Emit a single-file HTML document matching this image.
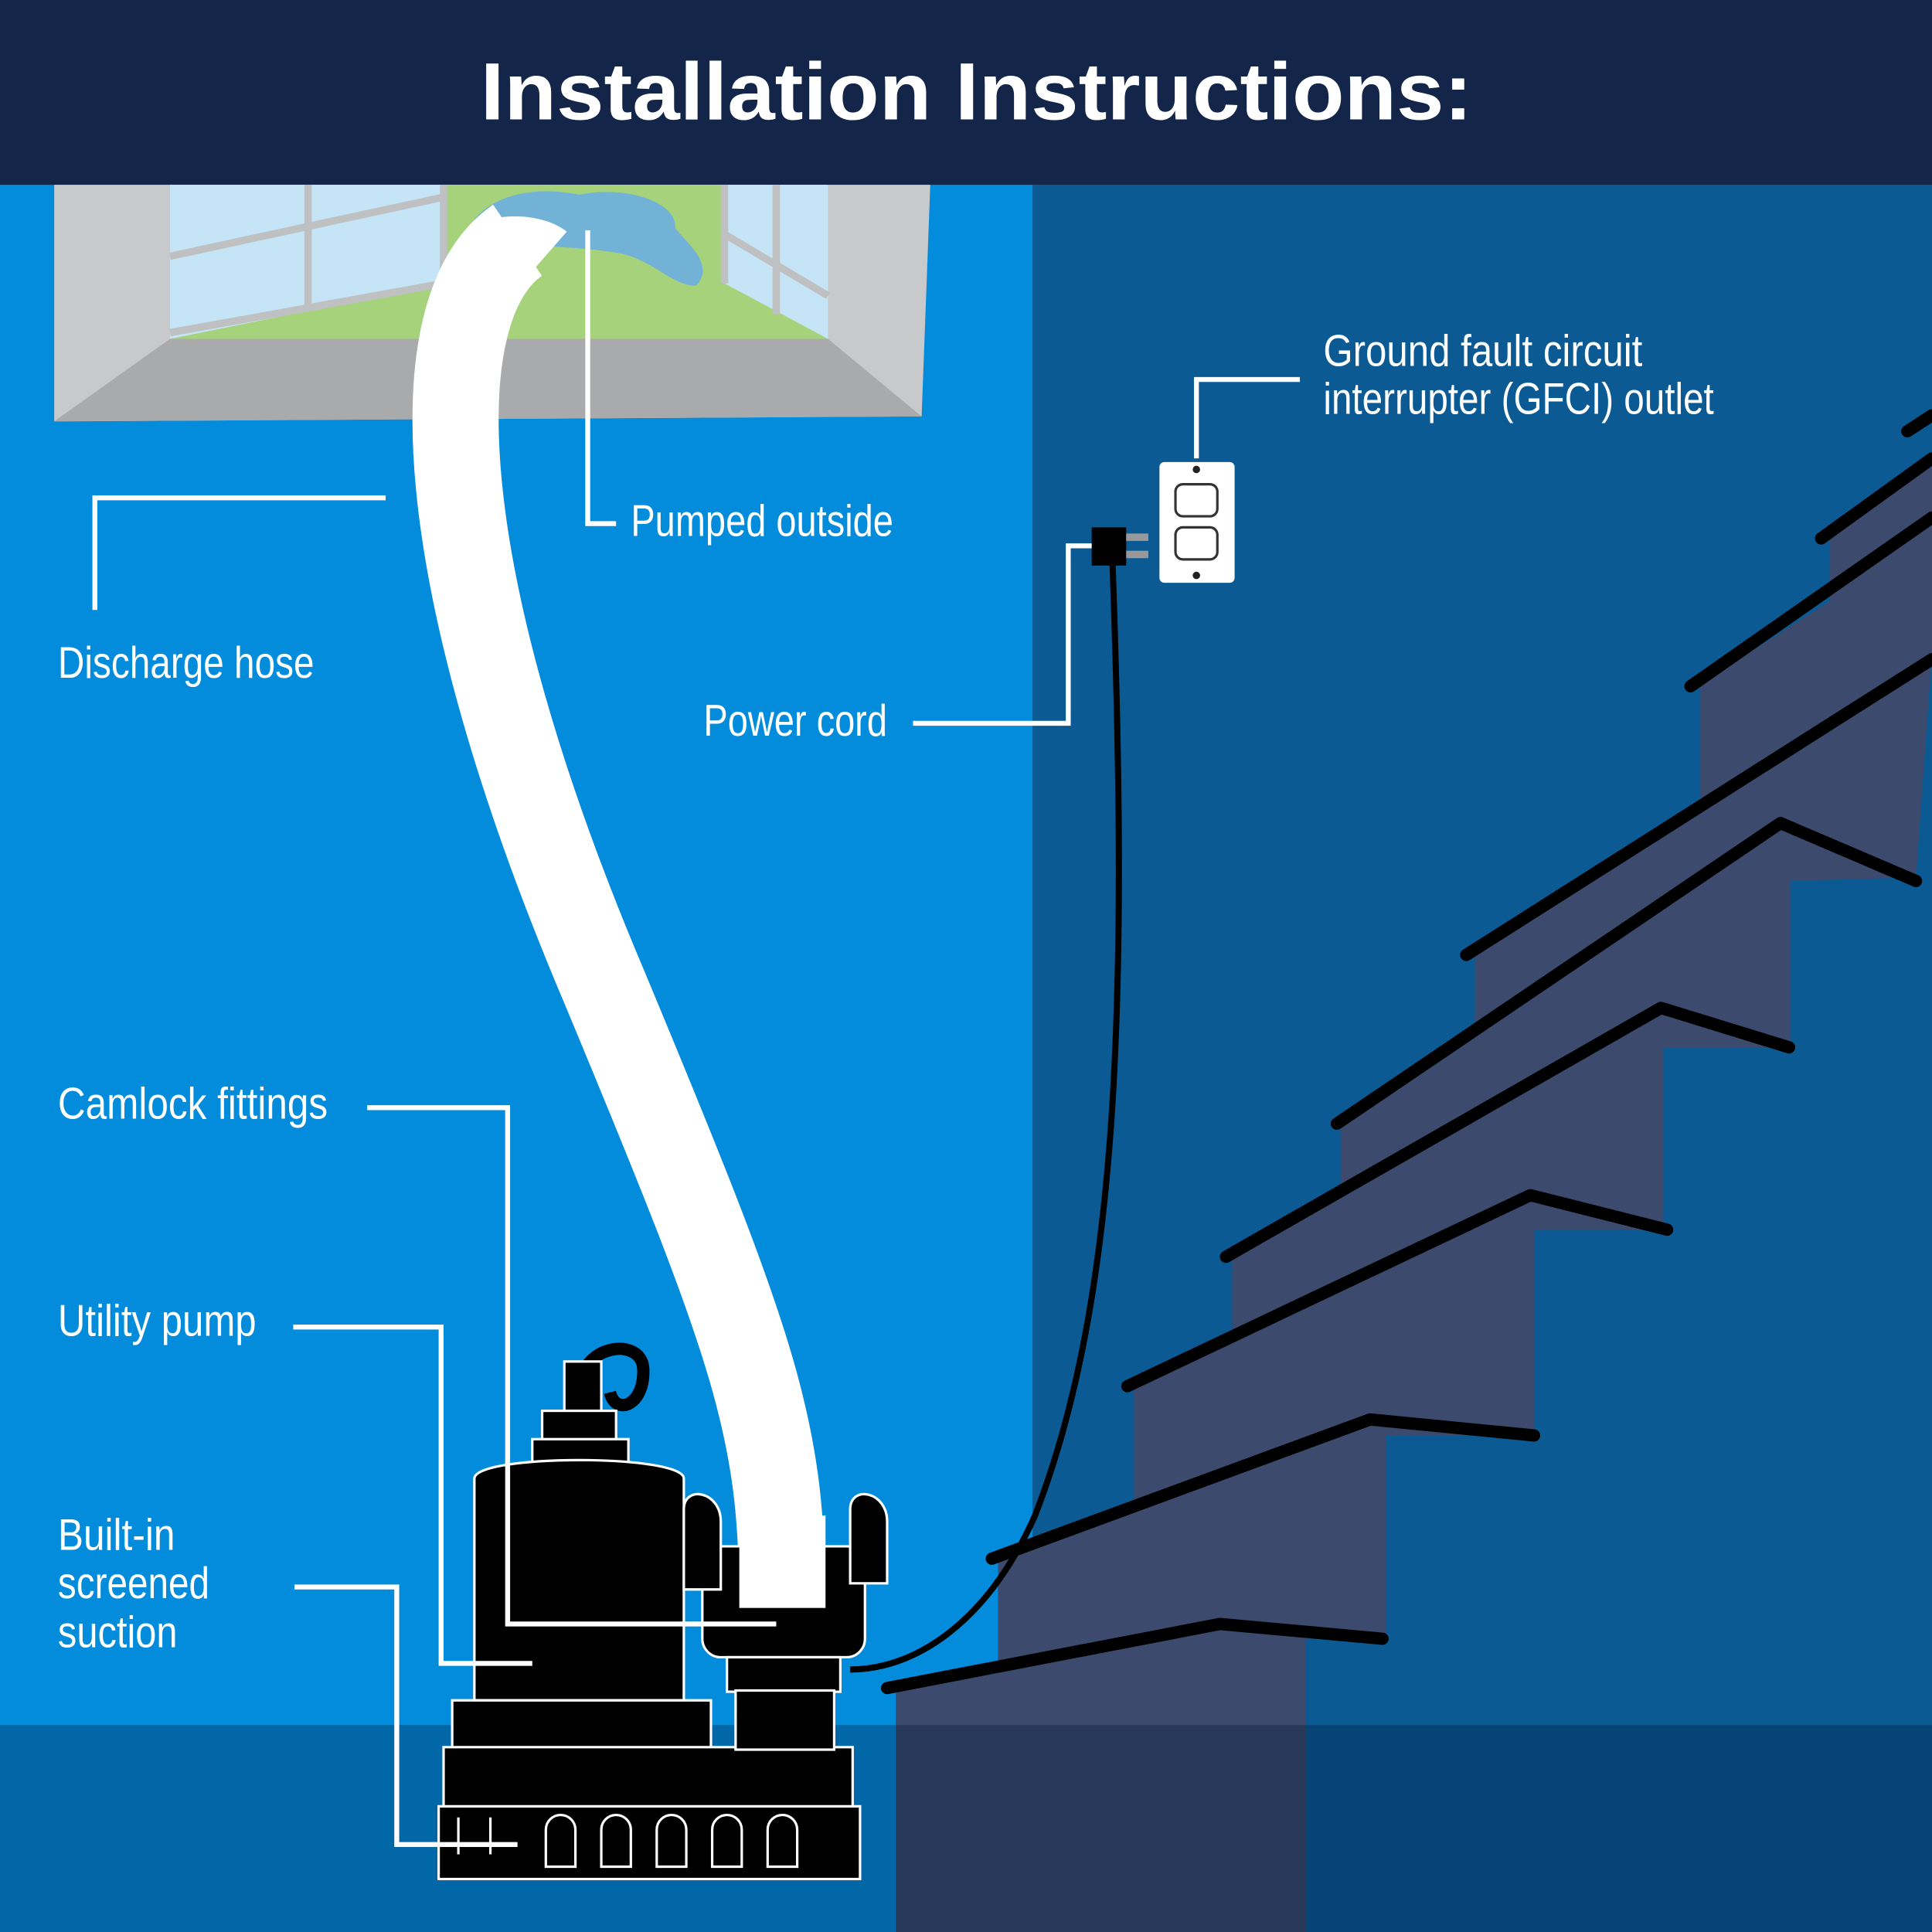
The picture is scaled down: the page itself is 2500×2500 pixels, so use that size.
<!DOCTYPE html>
<html><head><meta charset="utf-8"><style>
html,body{margin:0;padding:0;background:#0a8bd9}
svg{display:block}
text{font-family:"Liberation Sans Narrow","Liberation Sans",sans-serif;fill:#fff}
</style></head><body>
<svg width="2500" height="2500" viewBox="0 0 1568 1568" xmlns="http://www.w3.org/2000/svg">
<rect x="0" y="0" width="1568" height="1568" fill="#038cdb"/>
<rect x="838" y="150" width="730" height="1418" fill="#0b5a94"/>
<!-- stairs -->
<polygon fill="#3c4a6e" points="727,1568 727,1372 810,1358 810,1262 920,1222 920,1122 1000,1088 1000,1018 1088,972 1088,910 1197,842 1197,775 1380,652 1380,555 1485,488 1485,437 1568,378 1568,530 1555,712 1453,715 1453,850 1350,850 1350,998 1245,998 1245,1165 1125,1165 1125,1330 1060,1330 1060,1568"/>
<g stroke="#000" stroke-width="10" fill="none" stroke-linecap="round" stroke-linejoin="round">
<polyline points="720,1370 990,1318 1122,1330"/>
<polyline points="805,1265 1112,1152 1245,1165"/>
<polyline points="915,1125 1242,970 1353,998"/>
<polyline points="995,1020 1348,818 1452,850"/>
<polyline points="1085,912 1445,668 1555,715"/>
<polyline points="1190,775 1568,535"/>
<polyline points="1372,557 1568,420"/>
<polyline points="1478,437 1568,372"/>
<polyline points="1548,350 1568,337"/>
</g>
<!-- floor -->
<rect x="0" y="1400" width="1568" height="168" fill="#00152e" opacity="0.3"/>
<!-- header -->
<rect x="0" y="0" width="1568" height="150" fill="#14254a"/>
<text x="390" y="97" font-size="66" font-weight="bold" textLength="805" lengthAdjust="spacingAndGlyphs">Installation Instructions:</text>
<!-- window -->
<polygon points="44,150 755,150 748,338 44,342" fill="#c8c9cb"/>
<polygon points="138,150 672,150 672,275 138,275" fill="#c5e5f7"/>
<polygon points="360,150 588,150 588,230 672,275 138,275 360,230" fill="#a6d27c"/>
<polygon points="138,275 672,275 748,338 44,342" fill="#a9aaac"/>
<g stroke="#bfc0c2" stroke-width="6" fill="none">
<line x1="138" y1="208" x2="360" y2="160"/><line x1="250" y1="150" x2="250" y2="250"/>
<line x1="360" y1="150" x2="360" y2="232"/><line x1="138" y1="270" x2="360" y2="230"/>
<line x1="588" y1="150" x2="588" y2="230"/><line x1="588" y1="190" x2="672" y2="240"/><line x1="630" y1="150" x2="630" y2="255"/>
</g>
<path d="M385,178 C400,160 430,150 470,158 C510,150 550,165 548,185 C560,200 580,215 565,232 C545,232 530,210 500,205 C470,200 430,200 385,195 Z" fill="#72b2d6"/>
<!-- hose -->
<path d="M420,195 C340,250 350,470 490,800 C615,1100 635,1160 635,1305" stroke="#fff" stroke-width="70" fill="none"/>
<path d="M382,185 C400,172 440,172 460,188 L425,228 Z" fill="#fff"/>
<!-- outlet -->
<rect x="941" y="375" width="61" height="98" rx="4" fill="#fff"/>
<rect x="954" y="393" width="34" height="26" rx="6" fill="none" stroke="#333" stroke-width="2"/>
<rect x="954" y="428" width="34" height="26" rx="6" fill="none" stroke="#333" stroke-width="2"/>
<circle cx="971" cy="381" r="3" fill="#222"/><circle cx="971" cy="467" r="3" fill="#222"/>
<rect x="886" y="428" width="28" height="31" fill="#000"/>
<rect x="914" y="433" width="18" height="6" fill="#999"/><rect x="914" y="447" width="18" height="6" fill="#999"/>
<path d="M903,459 C915,800 910,1050 840,1230 C800,1320 740,1355 690,1355" stroke="#000" stroke-width="5" fill="none"/>
<!-- pump -->
<g fill="#000" stroke="#fff" stroke-width="2">
<path d="M470,1130 C470,1090 520,1085 522,1110 C524,1140 500,1150 495,1130" fill="none" stroke="#000" stroke-width="10"/>
<rect x="458" y="1105" width="30" height="45"/>
<rect x="440" y="1145" width="60" height="25"/>
<rect x="432" y="1168" width="78" height="30"/>
<path d="M385,1200 C385,1180 555,1180 555,1200 L555,1380 L385,1380 Z"/>
<path d="M367,1380 L577,1380 L577,1420 L367,1420 Z"/>
<path d="M360,1418 L692,1418 L692,1468 L360,1468 Z"/>
<path d="M356,1466 L698,1466 L698,1525 L356,1525 Z"/>
<rect x="570" y="1255" width="132" height="90" rx="15"/>
<rect x="590" y="1345" width="92" height="28"/>
<rect x="597" y="1372" width="80" height="48"/>
<path d="M555,1225 C555,1205 585,1210 585,1235 L585,1290 L555,1290 Z"/>
<path d="M690,1225 C690,1205 720,1210 720,1235 L720,1285 L690,1285 Z"/>
</g>
<g fill="none" stroke="#fff" stroke-width="2">
<path d="M372,1475 v30 M398,1475 v30 M443,1485 a12,12 0 0 1 24,0 v30 h-24 z M488,1485 a12,12 0 0 1 24,0 v30 h-24 z M533,1485 a12,12 0 0 1 24,0 v30 h-24 z M578,1485 a12,12 0 0 1 24,0 v30 h-24 z M623,1485 a12,12 0 0 1 24,0 v30 h-24 z"/>
</g>
<rect x="600" y="1230" width="70" height="75" fill="#fff"/>
<!-- leader lines -->
<g stroke="#fff" stroke-width="4" fill="none">
<polyline points="313,404 77,404 77,495"/>
<polyline points="477,187 477,425 500,425"/>
<polyline points="1055,308 971,308 971,372"/>
<polyline points="741,587 867,587 867,443 886,443"/>
<polyline points="298,899 412,899 412,1318 630,1318"/>
<polyline points="238,1077 358,1077 358,1350 432,1350"/>
<polyline points="239,1288 322,1288 322,1497 420,1497"/>
</g>
<!-- labels -->
<g font-size="36">
<text x="47" y="550" textLength="208" lengthAdjust="spacingAndGlyphs">Discharge hose</text>
<text x="512" y="435" textLength="213" lengthAdjust="spacingAndGlyphs">Pumped outside</text>
<text x="1074" y="297" textLength="259" lengthAdjust="spacingAndGlyphs">Ground fault circuit</text>
<text x="1074" y="336" textLength="317" lengthAdjust="spacingAndGlyphs">interrupter (GFCI) outlet</text>
<text x="571" y="597" textLength="149" lengthAdjust="spacingAndGlyphs">Power cord</text>
<text x="47" y="908" textLength="219" lengthAdjust="spacingAndGlyphs">Camlock fittings</text>
<text x="47" y="1084" textLength="161" lengthAdjust="spacingAndGlyphs">Utility pump</text>
<text x="47" y="1258" textLength="95" lengthAdjust="spacingAndGlyphs">Built-in</text>
<text x="47" y="1297" textLength="123" lengthAdjust="spacingAndGlyphs">screened</text>
<text x="47" y="1337" textLength="97" lengthAdjust="spacingAndGlyphs">suction</text>
</g>
</svg>
</body></html>
